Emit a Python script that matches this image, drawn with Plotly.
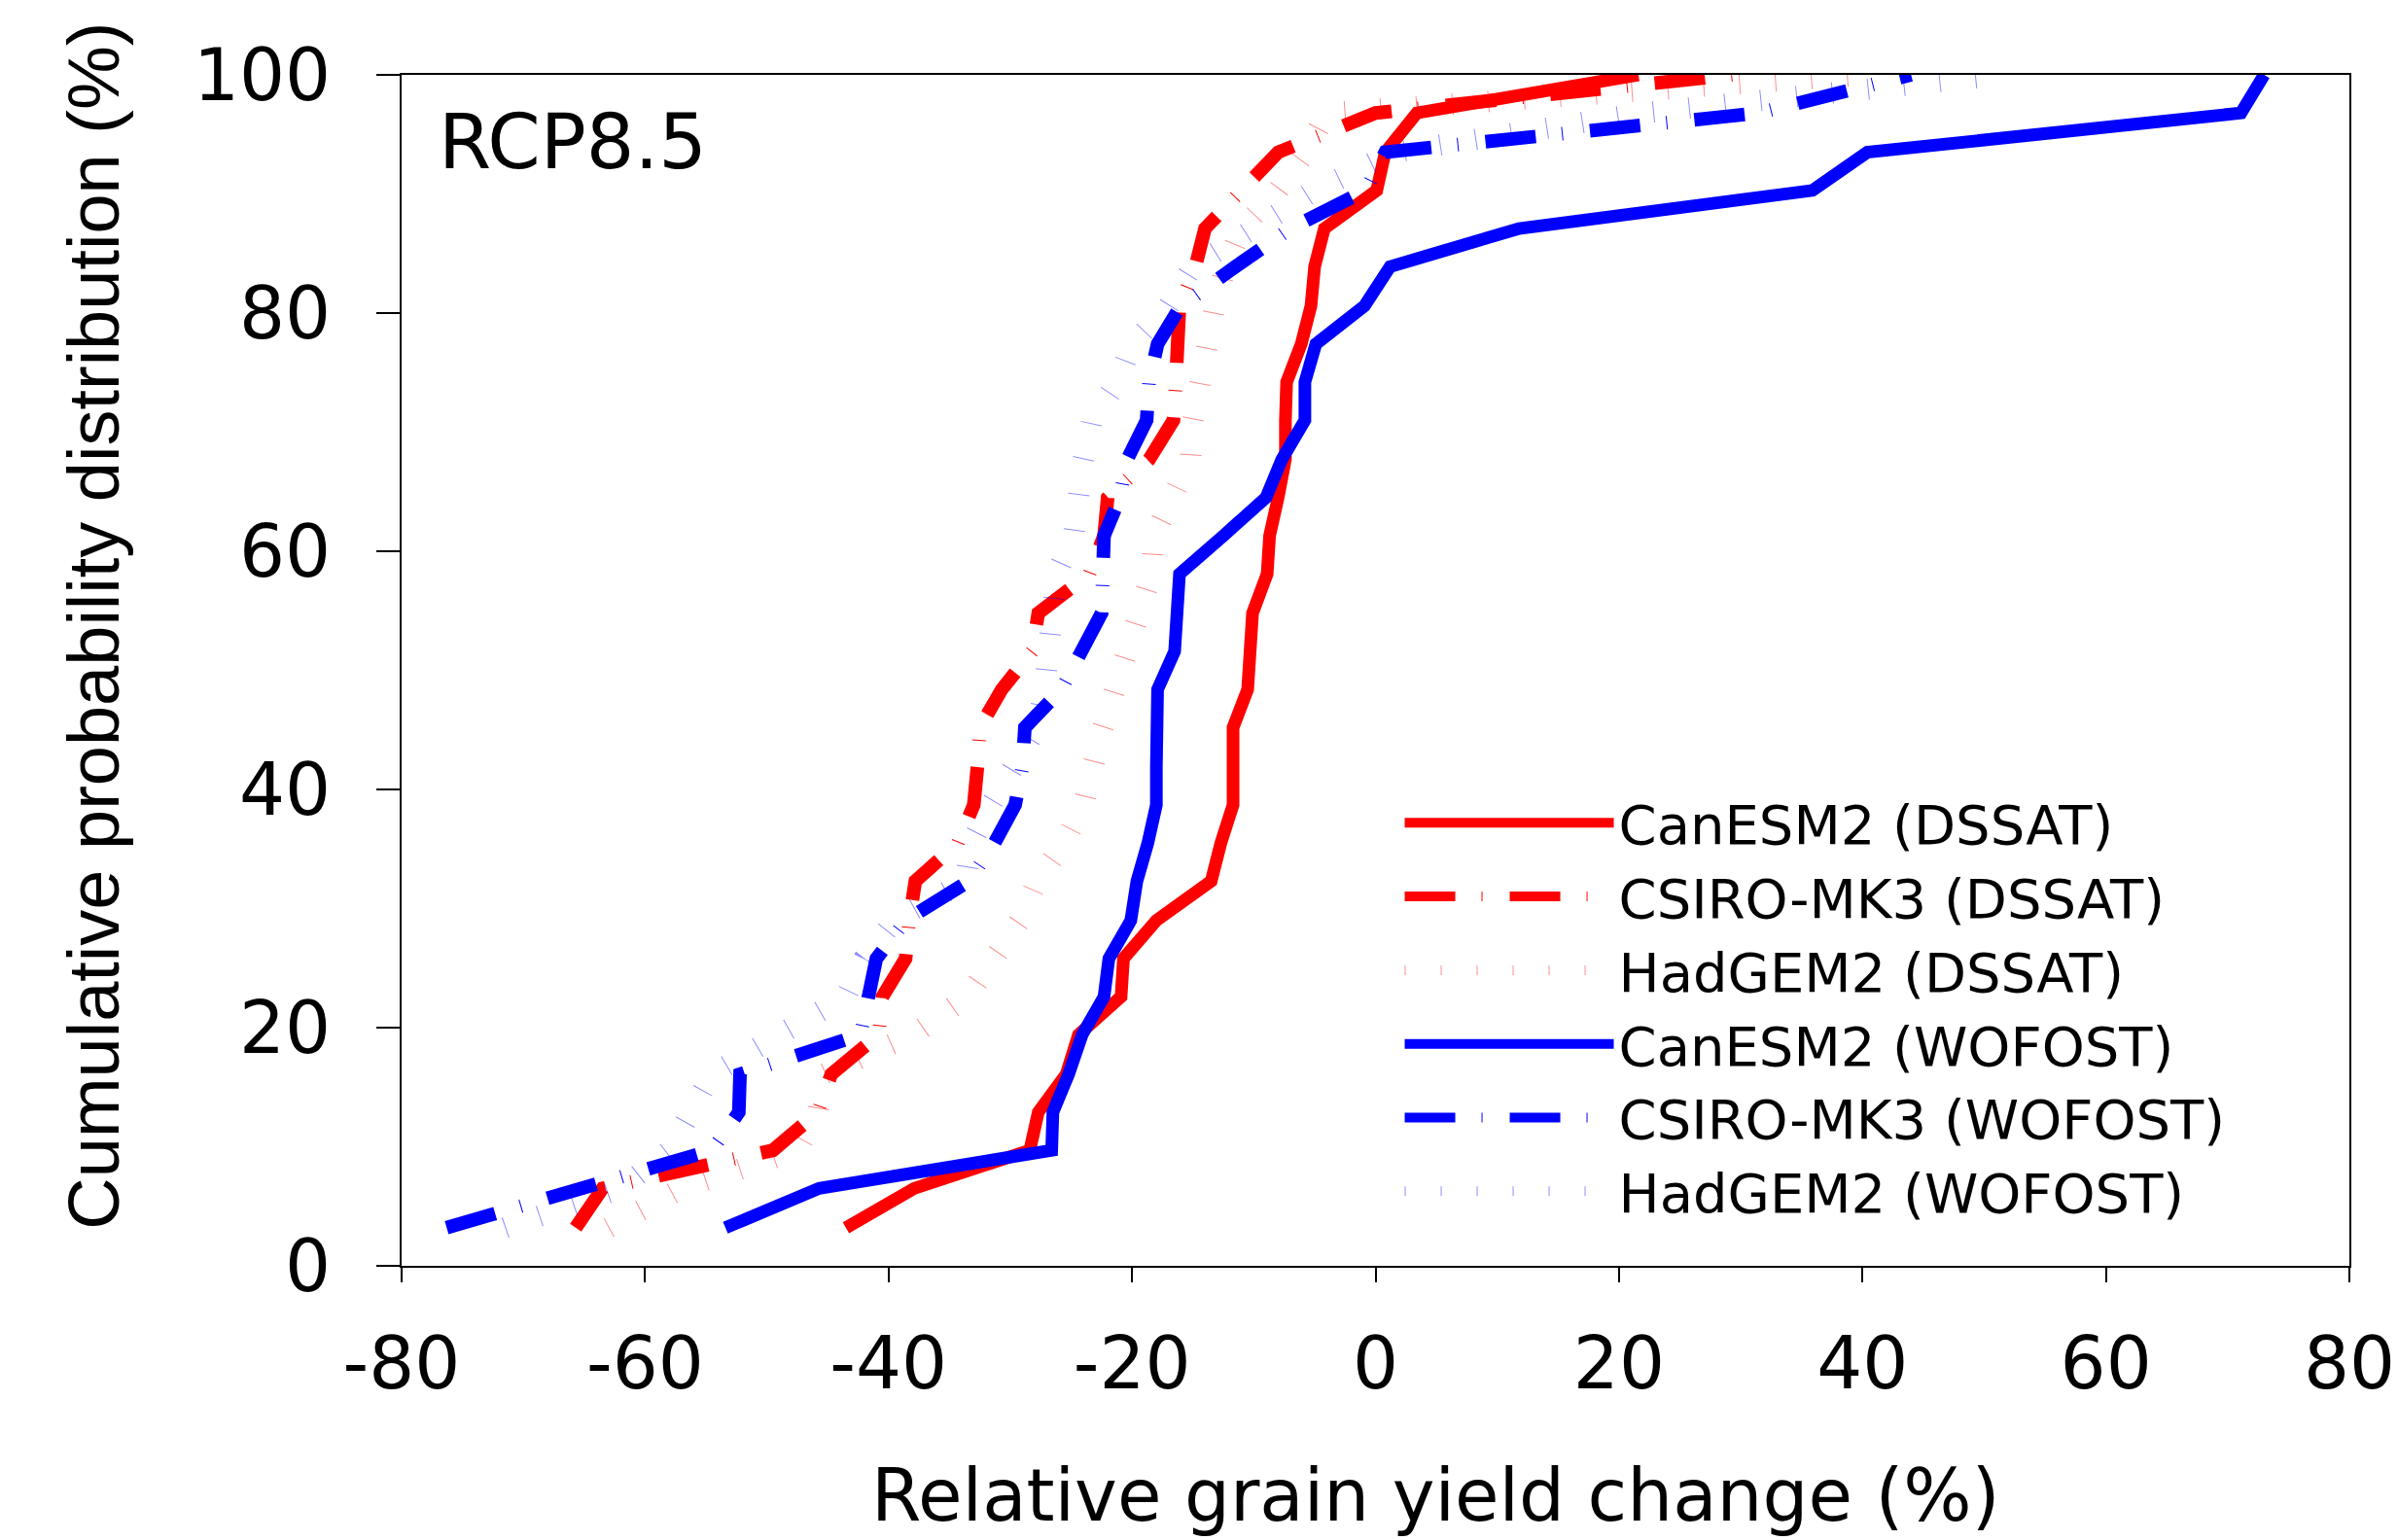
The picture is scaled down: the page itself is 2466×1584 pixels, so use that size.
import plotly.graph_objects as go

# cumulative probability levels (%)
cum_prob = [3.2, 6.5, 9.7, 12.9, 16.1, 19.4, 22.6, 25.8, 29.0, 32.3, 35.5, 38.7, 41.9,
            45.2, 48.4, 51.6, 54.8, 58.1, 61.3, 64.5, 67.7, 71.0, 74.2, 77.4, 80.6,
            83.9, 87.1, 90.3, 93.5, 96.8, 100.0]

# relative grain yield change (%) for each GCM / crop model
canesm2_dssat = [-43.5, -37.9, -28.4, -27.7, -25.4, -24.4, -20.9, -20.7, -18.0, -13.5,
                 -12.7, -11.7, -11.7, -11.7, -10.5, -10.4, -10.1, -8.9, -8.7, -8.0,
                 -7.4, -7.4, -7.3, -6.1, -5.3, -5.0, -4.2, 0.1, 0.8, 3.4, 21.6]
csiro_dssat = [-65.7, -63.5, -49.5, -45.8, -44.7, -40.8, -40.5, -38.6, -38.3, -37.8,
               -34.3, -33.0, -32.7, -32.5, -30.7, -28.2, -27.7, -23.5, -22.3, -22.0,
               -18.6, -16.6, -16.4, -16.2, -16.1, -14.8, -14.0, -11.0, -8.0, 0.0, 29.3]
hadgem_dssat = [-63.0, -57.0, -47.5, -45.8, -45.3, -38.0, -33.5, -31.2, -29.2, -27.8,
                -25.6, -24.0, -23.4, -22.4, -21.4, -20.5, -19.5, -18.4, -18.2, -16.5,
                -15.2, -15.0, -14.5, -13.9, -13.2, -12.3, -11.0, -8.0, -5.7, -4.0, 40.0]
canesm2_wofost = [-53.4, -45.7, -26.6, -26.5, -25.2, -24.1, -22.3, -21.9, -20.1, -19.6,
                  -18.7, -18.0, -18.0, -17.9, -17.9, -16.5, -16.4, -16.1, -12.5, -9.0,
                  -7.7, -5.8, -5.8, -4.9, -0.9, 1.2, 11.8, 35.9, 40.4, 71.1, 73.0]
csiro_wofost = [-76.3, -65.0, -54.5, -52.3, -52.2, -42.3, -41.6, -41.0, -38.6, -33.4,
                -31.3, -29.6, -29.0, -28.8, -25.8, -24.1, -22.5, -22.4, -22.3, -21.0,
                -20.4, -18.8, -18.6, -17.9, -16.0, -11.5, -7.0, -0.8, 0.8, 31.5, 44.0]
hadgem_wofost = [-71.5, -62.0, -58.0, -56.3, -54.5, -49.0, -43.5, -42.0, -39.5, -33.7,
                 -33.2, -31.6, -29.8, -27.8, -27.2, -26.9, -26.8, -26.2, -24.8, -24.5,
                 -24.0, -23.3, -21.2, -20.0, -17.0, -15.0, -10.0, -5.0, 1.5, 22.0, 51.5]

series_names = ["CanESM2 (DSSAT)", "CSIRO-MK3 (DSSAT)", "HadGEM2 (DSSAT)",
                "CanESM2 (WOFOST)", "CSIRO-MK3 (WOFOST)", "HadGEM2 (WOFOST)"]

x_tickvals = [-80, -60, -40, -20, 0, 20, 40, 60, 80]
x_ticktext = ["-80", "-60", "-40", "-20", "0", "20", "40", "60", "80"]
y_tickvals = [0, 20, 40, 60, 80, 100]
y_ticktext = ["0", "20", "40", "60", "80", "100"]

x_title = "Relative grain yield change (%)"
y_title = "Cumulative probability distribution (%)"
panel_label = "RCP8.5"

series_values = [canesm2_dssat, csiro_dssat, hadgem_dssat,
                 canesm2_wofost, csiro_wofost, hadgem_wofost]
styles = [
    dict(color="#ff0000", width=13, dash="solid"),
    dict(color="#ff0000", width=14, dash="52px,27px,1px,28px"),
    dict(color="rgba(255,0,0,0.45)", width=22, dash="1px,36px"),
    dict(color="#0000ff", width=13, dash="solid"),
    dict(color="#0000ff", width=14, dash="52px,27px,1px,28px"),
    dict(color="rgba(0,0,255,0.45)", width=22, dash="1px,36px"),
]

fig = go.Figure()
for name, xs, st in zip(series_names, series_values, styles):
    fig.add_trace(go.Scatter(x=xs, y=cum_prob, mode="lines", name=name,
                             line=st, hoverinfo="skip"))

FONT = "DejaVu Sans"
fig.update_layout(
    width=2466, height=1584,
    margin=dict(l=413, r=50, t=77, b=282, autoexpand=False),
    paper_bgcolor="white", plot_bgcolor="white",
    font=dict(family=FONT, color="black", size=74),
    showlegend=True,
    legend=dict(x=0.5125, y=0.407, xanchor="left", yanchor="top",
                bgcolor="rgba(0,0,0,0)", borderwidth=0,
                font=dict(family=FONT, size=56, color="black"),
                itemwidth=215, tracegroupgap=0),
    xaxis=dict(range=[-80, 80], tickvals=x_tickvals, ticktext=x_ticktext,
               showgrid=False, zeroline=False, showline=True, linecolor="black",
               linewidth=2, mirror=True, ticks="outside", ticklen=15, tickwidth=2,
               tickcolor="black", tickfont=dict(family=FONT, size=74),
               ticklabelstandoff=20, ticklabeloverflow="allow", automargin=False),
    yaxis=dict(range=[0, 100], tickvals=y_tickvals, ticktext=y_ticktext,
               showgrid=False, zeroline=False, showline=True, linecolor="black",
               linewidth=2, mirror=True, ticks="outside", ticklen=24, tickwidth=2,
               tickcolor="black", tickfont=dict(family=FONT, size=74),
               ticklabelstandoff=32, automargin=False),
    annotations=[
        dict(text=panel_label, x=0.018, y=0.944, xref="paper", yref="paper",
             xanchor="left", yanchor="middle", showarrow=False,
             font=dict(family=FONT, size=78, color="black")),
        dict(text=x_title, x=0.531, y=-0.229, xref="paper", yref="paper",
             xanchor="center", yanchor="bottom", showarrow=False,
             font=dict(family=FONT, size=74, color="black")),
        dict(text=y_title, x=-0.158, y=0.537, xref="paper", yref="paper",
             xanchor="center", yanchor="middle", showarrow=False, textangle=-90,
             font=dict(family="Liberation Sans", size=74, color="black")),
    ],
)

fig.write_html("out.html", config={"displayModeBar": False},
               post_script="document.body.style.margin='0';document.body.style.overflow='hidden';")
